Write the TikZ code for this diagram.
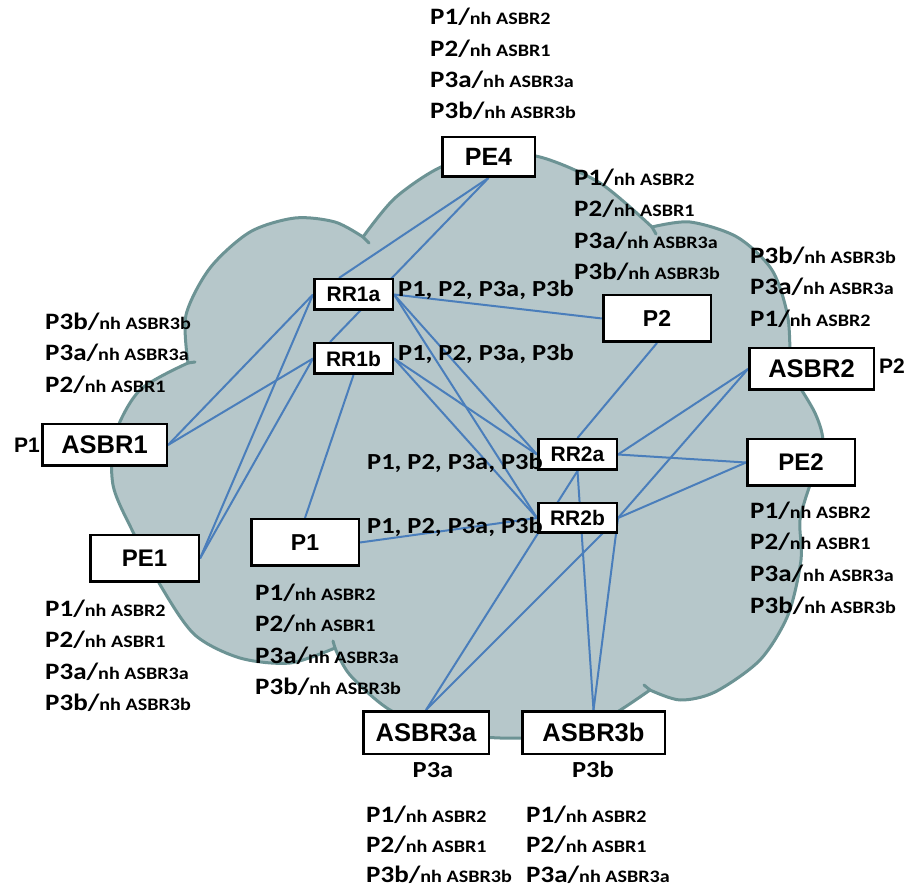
\documentclass[tikz,border=0pt]{standalone}
\usepackage{fontspec}
\setmainfont{Liberation Sans}
\newfontfamily\lblfont[FakeStretch=1.15]{Carlito}
\usetikzlibrary{calc}
\pgfdeclarelayer{cloudlayer}
\pgfdeclarelayer{linelayer}
\pgfsetlayers{cloudlayer,linelayer,main}
\definecolor{cloudfill}{RGB}{182,199,202}
\definecolor{cloudedge}{RGB}{108,147,148}
\definecolor{linkblue}{RGB}{74,126,187}
\newcommand\nhl[2]{{\fontsize{23.5}{23.5}\selectfont #1/}{\fontsize{17.5}{17.5}\selectfont nh #2}}
\begin{document}
\begin{tikzpicture}[x=1pt,y=-1pt,
  box/.style={draw=black, line width=2.5pt, fill=white, inner sep=0pt, font=\bfseries\fontsize{#1}{#1}\selectfont},
  link/.style={draw=linkblue, line width=2pt},
  lbl/.style={anchor=base west, inner sep=0pt, font=\lblfont\bfseries},
  plist/.style={anchor=base west, inner sep=0pt, font=\lblfont\bfseries\fontsize{23}{23}\selectfont},
  tag/.style={anchor=base west, inner sep=0pt, font=\bfseries\fontsize{21}{21}\selectfont},
  ptag/.style={anchor=base, inner sep=0pt, font=\lblfont\bfseries\fontsize{23}{23}\selectfont},
  cloudtail/.style={draw=cloudedge, line width=3pt, line cap=round}
]
\useasboundingbox (0,0) rectangle (906,890);

% ---------- boxes ----------
\node[box=25, minimum width=92.5pt, minimum height=39.5pt] (PE4) at (488.5,157) {PE4};
\node[box=21, minimum width=78.5pt, minimum height=30.5pt] (RR1a) at (353.5,294.5) {RR1a};
\node[box=21, minimum width=78.5pt, minimum height=30.5pt] (RR1b) at (353.5,358.5) {RR1b};
\node[box=21, minimum width=78.5pt, minimum height=30.5pt] (RR2a) at (577.5,454.5) {RR2a};
\node[box=21, minimum width=78.5pt, minimum height=29.5pt] (RR2b) at (577.5,518) {RR2b};
\node[box=23, minimum width=107.5pt, minimum height=46.5pt] (P2) at (657,318.5) {P2};
\node[box=23, minimum width=107.5pt, minimum height=46.5pt] (P1) at (305,542.5) {P1};
\node[box=24, minimum width=107.5pt, minimum height=46.5pt] (PE2) at (801,462.5) {PE2};
\node[box=24, minimum width=108.5pt, minimum height=46.5pt] (PE1) at (144.5,558.5) {PE1};
\node[box=25.5, minimum width=124.5pt, minimum height=41.5pt] (ASBR1) at (104.5,445) {ASBR1};
\node[box=25.5, minimum width=124.5pt, minimum height=41.5pt] (ASBR2) at (811.5,369) {ASBR2};
\node[box=25.5, minimum width=125.5pt, minimum height=42.5pt] (ASBR3a) at (426,732.5) {ASBR3a};
\node[box=25.5, minimum width=142.5pt, minimum height=42.5pt] (ASBR3b) at (593.5,732.5) {ASBR3b};

% ---------- cloud ----------
\begin{pgfonlayer}{cloudlayer}
\fill[white] (0,0) rectangle (906,890);
\path[fill=cloudfill, draw=cloudedge, line width=3pt, line join=round]
  plot[smooth] coordinates {(188,363) (186,315) (210,268) (250,232) (295,218) (335,222) (363,237)}
  -- plot[smooth] coordinates {(363,237) (395,198) (441,167) (490,155) (540,157) (600,183) (652,227)}
  -- plot[smooth] coordinates {(652,227) (690,222) (737,237) (772,270) (788,318) (790,372)}
  -- plot[smooth] coordinates {(790,372) (815,413) (823,445) (810,485)}
  -- plot[smooth] coordinates {(810,485) (800,520) (801,560) (788,615) (760,660) (715,692) (680,700) (650,690)}
  -- plot[smooth] coordinates {(650,690) (600,722) (550,736) (500,738) (445,732) (390,710) (350,675) (335,648)}
  -- plot[smooth] coordinates {(335,648) (290,663) (240,658) (195,635) (162,588) (133,532) (113,485) (115,435) (140,390) (188,363)}
  -- cycle;
\draw[cloudtail] (363,237) -- (369,243);
\draw[cloudtail] (652,227) -- (656,234);
\draw[cloudtail] (650,690) -- (644,685);
\draw[cloudtail] (335,648) -- (333,641);
\draw[cloudtail] (188,363) -- (195,362);
\end{pgfonlayer}

% ---------- links ----------
\begin{pgfonlayer}{linelayer}
\draw[link] (PE4.south) -- ($(RR1a.north)+(-14.5,0)$);
\draw[link] (PE4.south) -- ($(RR1b.north)+(-23.5,0)$);
\draw[link] (ASBR1.east) -- (RR1a.west);
\draw[link] (ASBR1.east) -- (RR1b.west);
\draw[link] (PE1.east) -- (RR1a.west);
\draw[link] (PE1.east) -- (RR1b.west);
\draw[link] (RR1b.south) -- (P1.north);
\draw[link] (RR1a.east) -- (P2.west);
\draw[link] (RR1a.east) -- (RR2a.west);
\draw[link] (RR1a.east) -- (RR2b.west);
\draw[link] (RR1b.east) -- (RR2a.west);
\draw[link] (RR1b.east) -- (RR2b.west);
\draw[link] (P1.east) -- (RR2b.west);
\draw[link] (P2.south) -- (RR2a.north);
\draw[link] (RR2a.east) -- (ASBR2.west);
\draw[link] (RR2a.east) -- (PE2.west);
\draw[link] (RR2b.east) -- (ASBR2.west);
\draw[link] (RR2b.east) -- (PE2.west);
\draw[link] (RR2a.south) -- (ASBR3a.north);
\draw[link] (RR2a.south) -- (ASBR3b.north);
\draw[link] (RR2b.east) -- (ASBR3a.north);
\draw[link] (RR2b.east) -- (ASBR3b.north);
\end{pgfonlayer}

% ---------- route lists ----------
\node[plist] (s1) at (398,297) {P1, P2, P3a, P3b};
\node[plist] (s2) at (398,360.5) {P1, P2, P3a, P3b};
\node[plist] (s3) at (367,470) {P1, P2, P3a, P3b};
\node[plist] (s4) at (367,533.5) {P1, P2, P3a, P3b};

% ---------- prefix tags ----------
\node[tag] (tagP1) at (14,452.5) {P1};
\node[tag] (tagP2) at (879,373.5) {P2};
\node[ptag] (tagP3a) at (433,777) {P3a};
\node[ptag] (tagP3b) at (593,777) {P3b};

% ---------- next-hop tables ----------
% above PE4
\node[lbl] (a1) at (430,25) {\nhl{P1}{ASBR2}};
\node[lbl] (a2) at (430,56.3) {\nhl{P2}{ASBR1}};
\node[lbl] (a3) at (430,87.6) {\nhl{P3a}{ASBR3a}};
\node[lbl] (a4) at (430,119) {\nhl{P3b}{ASBR3b}};
% right of PE4
\node[lbl] (b1) at (574,185.5) {\nhl{P1}{ASBR2}};
\node[lbl] (b2) at (574,216.8) {\nhl{P2}{ASBR1}};
\node[lbl] (b3) at (574,248.1) {\nhl{P3a}{ASBR3a}};
\node[lbl] (b4) at (574,279.4) {\nhl{P3b}{ASBR3b}};
% above ASBR2
\node[lbl] (c1) at (750,263.5) {\nhl{P3b}{ASBR3b}};
\node[lbl] (c2) at (750,295) {\nhl{P3a}{ASBR3a}};
\node[lbl] (c3) at (750,327) {\nhl{P1}{ASBR2}};
% above ASBR1
\node[lbl] (d1) at (45,329.5) {\nhl{P3b}{ASBR3b}};
\node[lbl] (d2) at (45,361) {\nhl{P3a}{ASBR3a}};
\node[lbl] (d3) at (45,392.5) {\nhl{P2}{ASBR1}};
% below PE2
\node[lbl] (e1) at (750,518.5) {\nhl{P1}{ASBR2}};
\node[lbl] (e2) at (750,550) {\nhl{P2}{ASBR1}};
\node[lbl] (e3) at (750,582) {\nhl{P3a}{ASBR3a}};
\node[lbl] (e4) at (750,614) {\nhl{P3b}{ASBR3b}};
% below PE1
\node[lbl] (f1) at (45,617) {\nhl{P1}{ASBR2}};
\node[lbl] (f2) at (45,648) {\nhl{P2}{ASBR1}};
\node[lbl] (f3) at (45,679) {\nhl{P3a}{ASBR3a}};
\node[lbl] (f4) at (45,710) {\nhl{P3b}{ASBR3b}};
% below P1
\node[lbl] (g1) at (255,600.5) {\nhl{P1}{ASBR2}};
\node[lbl] (g2) at (255,632) {\nhl{P2}{ASBR1}};
\node[lbl] (g3) at (255,663.5) {\nhl{P3a}{ASBR3a}};
\node[lbl] (g4) at (255,695) {\nhl{P3b}{ASBR3b}};
% below ASBR3a
\node[lbl] (h1) at (366,822) {\nhl{P1}{ASBR2}};
\node[lbl] (h2) at (366,852) {\nhl{P2}{ASBR1}};
\node[lbl] (h3) at (366,882) {\nhl{P3b}{ASBR3b}};
% below ASBR3b
\node[lbl] (i1) at (526,822) {\nhl{P1}{ASBR2}};
\node[lbl] (i2) at (526,852) {\nhl{P2}{ASBR1}};
\node[lbl] (i3) at (526,882) {\nhl{P3a}{ASBR3a}};
\end{tikzpicture}
\end{document}
